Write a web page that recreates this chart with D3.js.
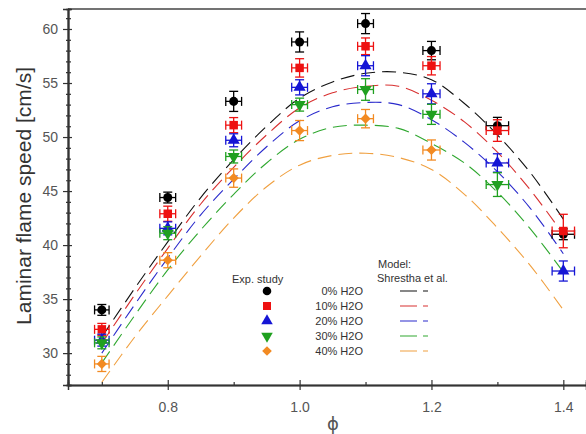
<!DOCTYPE html>
<html>
<head>
<meta charset="utf-8">
<script src="https://cdn.jsdelivr.net/npm/d3@7"></script>
<style>
  body { margin: 0; background: #fff; }
  svg { font-family: "Liberation Sans", Arial, sans-serif; }
</style>
</head>
<body>
<svg width="586" height="434"></svg>
<script>
// model curves (Shrestha et al.)
let modelPhi = [0.70, 0.75, 0.80, 0.85, 0.90, 0.95, 1.00, 1.05, 1.10, 1.15, 1.20, 1.25, 1.30, 1.35, 1.40];
let model0 = [31.5, 36.0, 40.3, 44.4, 47.9, 51.0, 53.6, 55.1, 55.9, 56.0, 55.3, 53.1, 50.2, 46.7, 42.4];
let model10 = [30.9, 35.4, 39.7, 43.8, 47.2, 50.2, 52.7, 54.1, 54.7, 54.7, 53.4, 51.4, 48.6, 45.1, 41.0];
let model20 = [30.0, 34.5, 38.8, 42.8, 46.1, 49.1, 51.5, 52.8, 53.2, 53.0, 51.6, 49.5, 46.8, 43.4, 39.2];
let model30 = [29.1, 33.5, 37.7, 41.4, 44.7, 47.6, 49.8, 50.9, 51.1, 50.8, 49.4, 47.6, 44.9, 41.5, 37.5];
let model40 = [27.3, 31.5, 35.3, 39.0, 42.5, 45.4, 47.4, 48.3, 48.5, 48.1, 47.0, 44.7, 41.6, 38.1, 34.0];

// experiments
let expPhi = [0.7, 0.8, 0.9, 1.0, 1.1, 1.2, 1.3, 1.4];
let exp0 = [34.0, 44.4, 53.3, 58.8, 60.5, 58.0, 51.05, 41.0];
let exp10 = [32.2, 42.9, 51.1, 56.4, 58.4, 56.6, 50.6, 41.3];
let exp20 = [31.2, 41.55, 49.7, 54.6, 56.6, 54.0, 47.6, 37.6];
let exp30 = [30.95, 41.1, 48.2, 53.0, 54.4, 52.1, 45.6, null];
let exp40 = [29.0, 38.6, 46.2, 50.6, 51.7, 48.8, null, null];
let err0 = [0.5, 0.5, 0.93, 0.93, 0.93, 0.85, 0.77, 0.5];
let err10 = [0.55, 0.7, 0.7, 0.85, 0.77, 0.85, 1.0, 1.55];
let err20 = [0.55, 0.6, 0.6, 0.7, 0.93, 0.93, 0.85, 0.93];
let err30 = [0.55, 0.6, 0.6, 0.6, 1.0, 0.93, 1.1, null];
let err40 = [0.7, 0.7, 0.85, 0.93, 0.85, 0.93, null, null];
let phiErr = [0.011, 0.012, 0.012, 0.012, 0.012, 0.013, 0.017, 0.017];

let labels = ["0% H2O", "10% H2O", "20% H2O", "30% H2O", "40% H2O"];
let yTicks = [30, 35, 40, 45, 50, 55, 60];
let xTicks = [0.8, 1.0, 1.2, 1.4];

let plotLeft = 68, plotTop = 9, plotRight = 586, plotBottom = 385;

const svg = d3.select("svg");

const x = d3.scaleLinear().domain([0.6487, 1.4344]).range([plotLeft, plotRight]);
const y = d3.scaleLinear().domain([27.05, 61.85]).range([plotBottom, plotTop]);

const series = [
  { model: model0, exp: exp0, err: err0, color: "#000000", line: "#111111", sym: d3.symbolCircle, size: 64, rot: 0 },
  { model: model10, exp: exp10, err: err10, color: "#ee1111", line: "#d83030", sym: d3.symbolSquare, size: 72, rot: 0 },
  { model: model20, exp: exp20, err: err20, color: "#1515d5", line: "#2a2acc", sym: d3.symbolTriangle, size: 64, rot: 0 },
  { model: model30, exp: exp30, err: err30, color: "#1fa01f", line: "#30a830", sym: d3.symbolTriangle, size: 64, rot: 180 },
  { model: model40, exp: exp40, err: err40, color: "#f28a22", line: "#f0a040", sym: d3.symbolSquare, size: 52, rot: 45 }
];

svg.append("clipPath").attr("id", "clip")
  .append("rect").attr("x", plotLeft).attr("y", plotTop)
  .attr("width", plotRight - plotLeft).attr("height", plotBottom - plotTop);

//model curves
const line = d3.line()
  .x((d, i) => x(modelPhi[i]))
  .y(d => y(d))
  .curve(d3.curveCatmullRom);

const curves = svg.append("g").attr("clip-path", "url(#clip)");
series.forEach(s => {
  curves.append("path")
    .attr("d", line(s.model))
    .attr("fill", "none")
    .attr("stroke", s.line)
    .attr("stroke-width", 1.1)
    .attr("stroke-dasharray", "14,7");
});

//axes
svg.append("line").attr("x1", plotLeft).attr("x2", plotRight).attr("y1", plotTop).attr("y2", plotTop)
  .attr("stroke", "#444").attr("stroke-width", 1.5);

let yMinor = d3.range(28, 62, 1).filter(v => v % 5 != 0);

svg.append("g")
  .attr("transform", `translate(${plotLeft},0)`)
  .call(d3.axisLeft(y).tickValues(yTicks).tickSize(5).tickPadding(5));
svg.append("g")
  .attr("transform", `translate(${plotLeft},0)`)
  .call(d3.axisLeft(y).tickValues(yTicks).tickSize(-4).tickFormat(""));
svg.append("g")
  .attr("transform", `translate(${plotLeft},0)`)
  .call(d3.axisLeft(y).tickValues(yMinor).tickSize(-3).tickFormat(""));
svg.append("g")
  .attr("transform", `translate(${plotLeft},0)`)
  .call(d3.axisLeft(y).tickValues(yMinor).tickSize(2).tickFormat(""));

svg.append("g")
  .attr("transform", `translate(0,${plotBottom})`)
  .call(d3.axisBottom(x).tickValues(xTicks).tickSize(5).tickPadding(12).tickFormat(d3.format(".1f")));
svg.append("g")
  .attr("transform", `translate(0,${plotBottom})`)
  .call(d3.axisBottom(x).tickValues(xTicks).tickSize(-5).tickFormat(""));
svg.append("g")
  .attr("transform", `translate(0,${plotBottom})`)
  .call(d3.axisBottom(x).tickValues([0.7, 0.9, 1.1, 1.3]).tickSize(-3).tickFormat(""));

svg.selectAll(".domain").attr("stroke", "#333").attr("stroke-width", 1.5);
svg.selectAll(".tick line").attr("stroke", "#333").attr("stroke-width", 1.2);
svg.selectAll(".tick text").attr("fill", "#555").style("font-size", "14px")
  .style("font-family", "'Liberation Sans', Arial, sans-serif");

svg.append("text")
  .attr("transform", "translate(31,196) rotate(-90)")
  .attr("text-anchor", "middle")
  .attr("fill", "#333")
  .style("font-size", "21px")
  .text("Laminar flame speed [cm/s]");

svg.append("text")
  .attr("x", 333).attr("y", 430)
  .attr("text-anchor", "middle")
  .attr("fill", "#555")
  .style("font-size", "18px")
  .style("font-family", "'DejaVu Sans', sans-serif")
  .text("\u03D5");

//experiments: error bars and markers
const cap = 4.5;
series.forEach(s => {
  const g = svg.append("g").attr("stroke", s.color).attr("stroke-width", 1.3);
  s.exp.forEach((v, i) => {
    if (v == null) return;
    const cx = x(expPhi[i]), cy = y(v);
    const y1 = y(v + s.err[i]), y2 = y(v - s.err[i]);
    const x1 = x(expPhi[i] - phiErr[i]), x2 = x(expPhi[i] + phiErr[i]);
    g.append("line").attr("x1", cx).attr("x2", cx).attr("y1", y1).attr("y2", y2);
    g.append("line").attr("x1", cx - cap).attr("x2", cx + cap).attr("y1", y1).attr("y2", y1);
    g.append("line").attr("x1", cx - cap).attr("x2", cx + cap).attr("y1", y2).attr("y2", y2);
    g.append("line").attr("x1", x1).attr("x2", x2).attr("y1", cy).attr("y2", cy);
    g.append("line").attr("x1", x1).attr("x2", x1).attr("y1", cy - cap).attr("y2", cy + cap);
    g.append("line").attr("x1", x2).attr("x2", x2).attr("y1", cy - cap).attr("y2", cy + cap);
  });
  svg.append("g").selectAll("path")
    .data(s.exp.map((v, i) => [expPhi[i], v]).filter(d => d[1] != null))
    .enter()
    .append("path")
    .attr("d", d3.symbol().type(s.sym).size(s.size))
    .attr("transform", d => `translate(${x(d[0])},${y(d[1])}) rotate(${s.rot})`)
    .attr("fill", s.color);
});

//legend
const legend = svg.append("g").style("font-size", "11px").attr("fill", "#333");
legend.append("text").attr("x", 232).attr("y", 283).text("Exp. study");
legend.append("text").attr("x", 378).attr("y", 268).text("Model:");
legend.append("text").attr("x", 377).attr("y", 282).text("Shrestha et al.");

series.forEach((s, i) => {
  const ry = 291 + i * 15;
  svg.append("path")
    .attr("d", d3.symbol().type(s.sym).size(s.size * 0.9))
    .attr("transform", `translate(267,${ry}) rotate(${s.rot})`)
    .attr("fill", s.color);
  legend.append("text")
    .attr("x", 363).attr("y", ry + 4)
    .attr("text-anchor", "end")
    .text(labels[i]);
  svg.append("line")
    .attr("x1", 400).attr("x2", 428).attr("y1", ry).attr("y2", ry)
    .attr("stroke", s.line).attr("stroke-width", 1.1)
    .attr("stroke-dasharray", "17,6");
});
</script>
</body>
</html>
